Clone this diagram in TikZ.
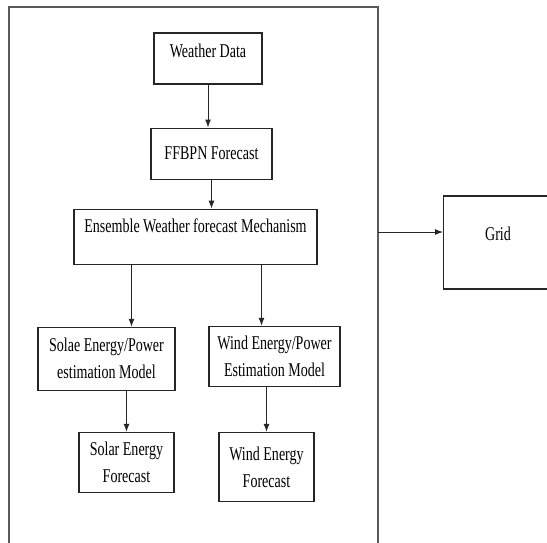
\documentclass[tikz,border=0pt]{standalone}
\usepackage{fontspec}
\setmainfont[FakeStretch=0.72]{Liberation Serif}
\usepackage{tikz}
\usetikzlibrary{positioning,arrows.meta}

\begin{document}
\begin{tikzpicture}[
  x=1pt,y=-1pt,
  font=\fontsize{19.5}{27}\selectfont,
  node distance=40pt and 60pt,
  box/.style={draw=black!85,line width=1.1pt,inner sep=2pt,align=center},
  topbox/.style={box,inner ysep=0pt},
  frame/.style={draw=black!65,line width=1.1pt},
  arr/.style={-{Latex[length=8pt,width=6pt]},line width=1pt,black!85}
]
\useasboundingbox (0,0) rectangle (547,542);

% forecasting system
\node[topbox,minimum width=108pt,text height=24pt,text depth=27pt] (wdata) at (208,58.5) {Weather Data};
\node[box,minimum width=121pt,minimum height=51pt,below=43pt of wdata,xshift=3.5pt] (ffbpn) {FFBPN Forecast};
\node[topbox,minimum width=243pt,text height=23pt,text depth=32pt,below=29pt of ffbpn,xshift=-16pt] (ens) {Ensemble Weather forecast Mechanism};
\node[box,minimum width=137pt,minimum height=63pt,below=62pt of ens,xshift=-89pt] (solae) {Solae Energy/Power\\estimation Model};
\node[box,minimum width=131pt,minimum height=60pt,below=61pt of ens,xshift=79pt] (windm) {Wind Energy/Power\\Estimation Model};
\node[box,minimum width=95pt,minimum height=60pt,below=41pt of solae,xshift=20pt] (solarf) {Solar Energy\\Forecast};
\node[box,minimum width=95pt,minimum height=69pt,below=45pt of windm,xshift=-8pt] (windf) {Wind Energy\\Forecast};

\draw[frame] (9,560) |- (378,7) -- (378,560);
\coordinate (tap) at (378,232);
\node[topbox,minimum width=109pt,text height=44pt,text depth=49pt,right=65pt of tap,yshift=-10.5pt] (grid) {Grid};

\coordinate (sA) at ([xshift=-64pt]ens.south);
\coordinate (sB) at ([xshift=66pt]ens.south);

\draw[arr] (wdata) -- (wdata |- ffbpn.north);
\draw[arr] (ffbpn) -- (ffbpn |- ens.north);
\draw[arr] (sA) -- (sA |- solae.north);
\draw[arr] (sB) -- (sB |- windm.north);
\draw[arr] (solarf |- solae.south) -- (solarf);
\draw[arr] (windf |- windm.south) -- (windf);
\draw[arr] (tap) -- (tap -| grid.west);
\end{tikzpicture}
\end{document}
